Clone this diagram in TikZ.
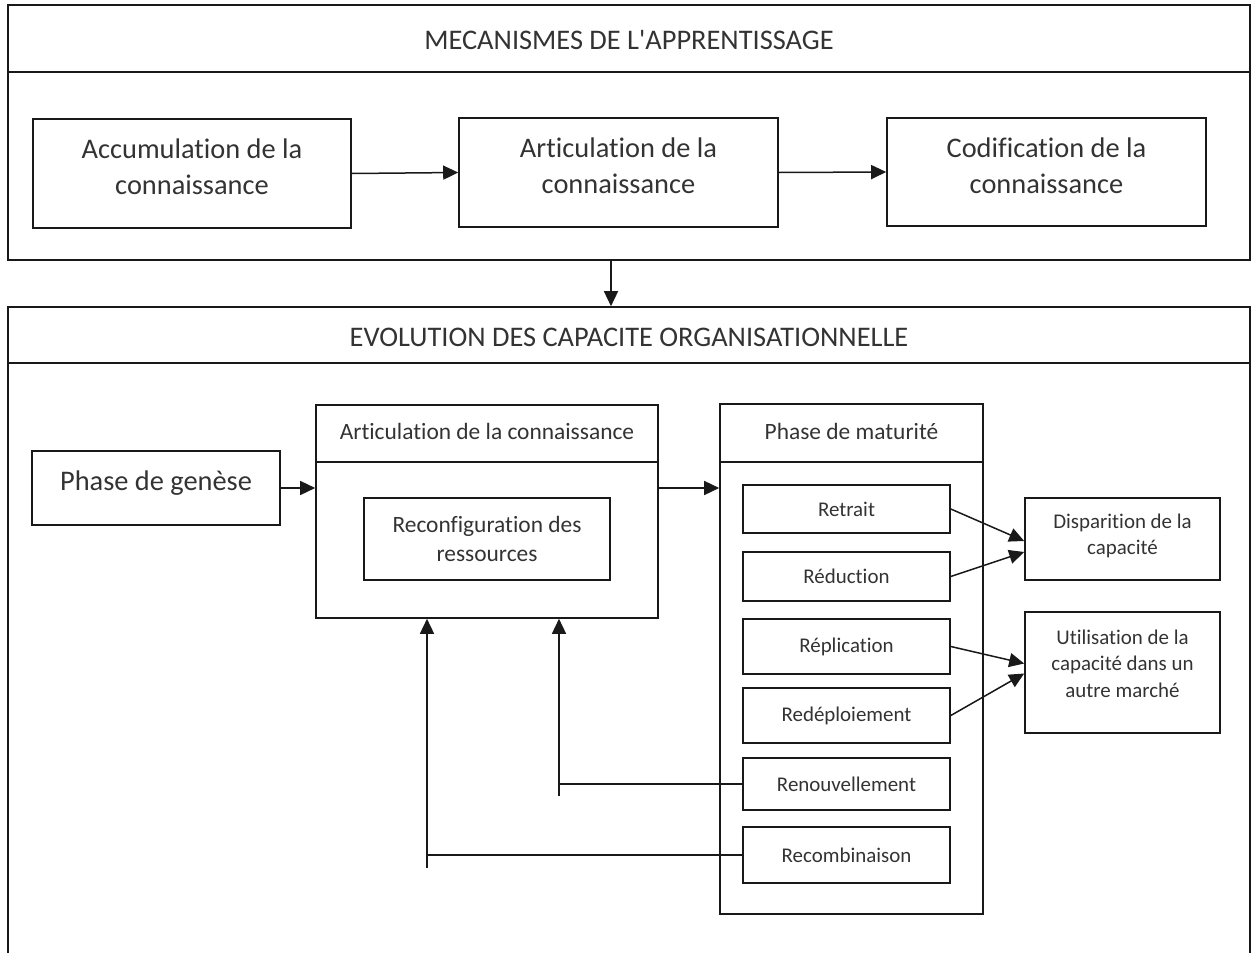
\documentclass[tikz,border=0pt]{standalone}
\usepackage{fontspec}
\setmainfont{Carlito}[Ligatures={NoCommon}]
\usetikzlibrary{arrows.meta,calc}
\begin{document}
\begin{tikzpicture}[x=1bp,y=-1bp,
  line width=1.6bp,
  box/.style={draw=black!90, rectangle, inner sep=0pt, align=center, text=black!80},
  big/.style={font=\fontsize{28.5}{36}\selectfont},
  mid/.style={font=\fontsize{23.5}{29}\selectfont},
  small/.style={font=\fontsize{21}{26.5}\selectfont},
  caption/.style={inner sep=0pt, text=black!80, align=center},
  % box whose text sits a little above its centre
  boxtext/.style 2 args={label={[caption, #1]center:#2}},
  arr/.style={draw=black!90, -{Triangle[length=15bp,width=14bp]}, line width=1.5bp},
  link/.style={draw=black!90, line width=1.5bp}]
\useasboundingbox (0,0) rectangle (1255,953);

% ---- learning mechanisms frame ----
\node[box, minimum width=1242bp, minimum height=255bp] (mec) at (629,132.5) {};
\draw[black!90] ($(mec.north west)+(0,68)$) -- ($(mec.north east)+(0,68)$);
\node[caption, big] (mectitle) at (629,40) {MECANISMES DE L\textquotesingle APPRENTISSAGE};

\node[box, minimum width=318bp, minimum height=109bp,
  boxtext={big, yshift=7bp}{Accumulation de la\\connaissance}] (acc) at (192,173.5) {};
\node[box, minimum width=319bp, minimum height=109bp,
  boxtext={big, yshift=7bp}{Articulation de la\\connaissance}] (art) at (618.5,172.5) {};
\node[box, minimum width=319bp, minimum height=108bp,
  boxtext={big, yshift=6bp}{Codification de la\\connaissance}] (cod) at (1046.5,172) {};
\draw[arr] (acc.east) -- (art.west);
\draw[arr] (art.east) -- (cod.west);

% ---- organisational capabilities frame (open at the bottom) ----
\node[box, minimum width=1242bp, minimum height=700bp] (evo) at (629,657) {};
\draw[black!90] ($(evo.north west)+(0,57)$) -- ($(evo.north east)+(0,57)$);
\node[caption, big] (evotitle) at (629,337) {EVOLUTION DES CAPACITE ORGANISATIONNELLE};

\draw[arr] ([xshift=-18bp]mec.south) -- ([xshift=-18bp]evo.north);

% genesis
\node[box, minimum width=248bp, minimum height=74bp,
  boxtext={big, yshift=5bp}{Phase de genèse}] (gen) at (156,488) {};

% articulation container
\node[box, minimum width=342bp, minimum height=213bp] (artic) at (487,511.5) {};
\draw[black!90] ($(artic.north west)+(0,58)$) -- ($(artic.north east)+(0,58)$);
\node[caption, mid] (artictitle) at ($(artic.north)+(0,27)$) {Articulation de la connaissance};
\node[box, mid, minimum width=246bp, minimum height=82bp] (reconf) at (487,539)
  {Reconfiguration des\\ressources};

% maturity container
\node[box, minimum width=263bp, minimum height=510bp] (mat) at (851.5,659) {};
\draw[black!90] ($(mat.north west)+(0,59)$) -- ($(mat.north east)+(0,59)$);
\node[caption, mid] (mattitle) at ($(mat.north)+(0,28)$) {Phase de maturité};

\node[box, small, minimum width=207bp, minimum height=48bp] (retrait) at (846.5,509) {Retrait};
\node[box, small, minimum width=207bp, minimum height=49bp] (reduc) at (846.5,576.5) {Réduction};
\node[box, small, minimum width=207bp, minimum height=55bp] (repli) at (846.5,646.5) {Réplication};
\node[box, small, minimum width=207bp, minimum height=55bp] (redep) at (846.5,715.5) {Redéploiement};
\node[box, small, minimum width=207bp, minimum height=52bp] (renouv) at (846.5,784) {Renouvellement};
\node[box, small, minimum width=207bp, minimum height=56bp] (recomb) at (846.5,855) {Recombinaison};

% outcomes
\node[box, minimum width=195bp, minimum height=82bp,
  boxtext={small, yshift=3bp}{Disparition de la\\capacité}] (disp) at (1122.5,539) {};
\node[box, minimum width=195bp, minimum height=121bp,
  boxtext={small, yshift=9bp}{Utilisation de la\\capacité dans un\\autre marché}] (util) at (1122.5,672.5) {};

% flow arrows
\draw[arr] (gen.east) -- (gen.east -| artic.west);
\draw[arr] (artic.east |- gen.east) -- (mat.west |- gen.east);

\draw[arr] (retrait.east) -- ($(disp.west)+(0,2)$);
\draw[arr] (reduc.east) -- ($(disp.west)+(0,13)$);
\draw[arr] (repli.east) -- ($(util.west)+(0,-9)$);
\draw[arr] (redep.east) -- ($(util.west)+(0,1)$);

% feedback loops into the articulation stage
\coordinate (rnfoot) at (559,796);
\coordinate (rcfoot) at (427,868);
\draw[link] (renouv.west) -- (renouv.west -| rnfoot);
\draw[arr] (rnfoot) -- (rnfoot |- artic.south);
\draw[link] (recomb.west) -- (recomb.west -| rcfoot);
\draw[arr] (rcfoot) -- (rcfoot |- artic.south);
\end{tikzpicture}
\end{document}
